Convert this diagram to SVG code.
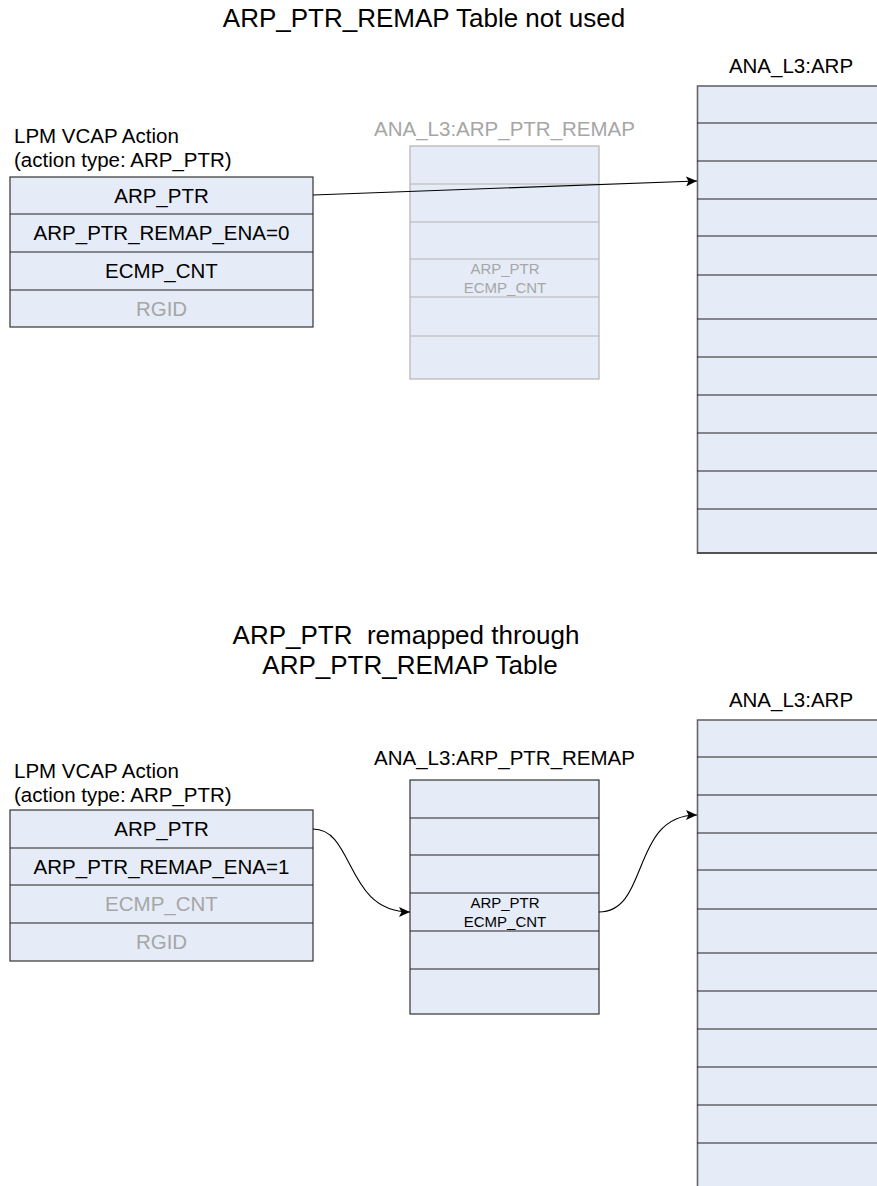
<svg xmlns="http://www.w3.org/2000/svg" width="877" height="1186" viewBox="0 0 877 1186">
<style>
text{font-family:"Liberation Sans",Arial,sans-serif;fill:#000}
.title{font-size:26px;text-anchor:middle}
.lbl{font-size:20.5px}
.cell{font-size:20.5px;text-anchor:middle}
.small{font-size:15px;text-anchor:middle}
.grey{fill:#a6a6a6}
.box{fill:#e5ecf7;stroke:#333;stroke-width:1.2}
.gbox{fill:#e5ecf7;stroke:#b4b4b4;stroke-width:1.2}
.sep{stroke:#222;stroke-width:1.2}
.gsep{stroke:#b4b4b4;stroke-width:1.2}
.arp{fill:#e5ecf7;stroke:#666;stroke-width:1.6}
.conn{fill:none;stroke:#000;stroke-width:1.1}
</style>
<defs>
<marker id="ah" markerUnits="userSpaceOnUse" markerWidth="12" markerHeight="10" refX="11" refY="5" orient="auto">
<path d="M0,0 L11,5 L0,10 L2.5,5 z" fill="#000"/>
</marker>
</defs>

<text class="title" x="424" y="27">ARP_PTR_REMAP Table not used</text>
<text class="title" x="406" y="644" style="white-space:pre" xml:space="preserve">ARP_PTR  remapped through</text>
<text class="title" x="410" y="674">ARP_PTR_REMAP Table</text>

<g id="lpm-top">
<text class="lbl" x="14" y="143">LPM VCAP Action</text>
<text class="lbl" x="14" y="167">(action type: ARP_PTR)</text>
<rect class="box" x="10" y="177" width="303" height="150"/>
<line class="sep" x1="10" y1="214" x2="313" y2="214"/>
<line class="sep" x1="10" y1="252" x2="313" y2="252"/>
<line class="sep" x1="10" y1="290" x2="313" y2="290"/>
<text class="cell" x="161.5" y="202.5">ARP_PTR</text>
<text class="cell" x="161.5" y="240">ARP_PTR_REMAP_ENA=0</text>
<text class="cell" x="161.5" y="278">ECMP_CNT</text>
<text class="cell grey" x="161.5" y="315.5">RGID</text>
</g>

<g id="remap-top">
<text class="lbl grey" x="504.5" y="136" text-anchor="middle">ANA_L3:ARP_PTR_REMAP</text>
<rect class="gbox" x="410" y="146" width="189" height="233"/>
<line class="gsep" x1="410" y1="184" x2="599" y2="184"/>
<line class="gsep" x1="410" y1="222" x2="599" y2="222"/>
<line class="gsep" x1="410" y1="259" x2="599" y2="259"/>
<line class="gsep" x1="410" y1="297" x2="599" y2="297"/>
<line class="gsep" x1="410" y1="336" x2="599" y2="336"/>
<text class="small grey" x="505" y="274">ARP_PTR</text>
<text class="small grey" x="505" y="292.5">ECMP_CNT</text>
</g>

<g id="arp-top">
<text class="lbl" x="791" y="73" text-anchor="middle">ANA_L3:ARP</text>
<rect class="arp" x="697.5" y="86" width="200" height="467"/>
<g class="sep">
<line x1="697" y1="123" x2="877" y2="123"/>
<line x1="697" y1="161" x2="877" y2="161"/>
<line x1="697" y1="199" x2="877" y2="199"/>
<line x1="697" y1="236" x2="877" y2="236"/>
<line x1="697" y1="275" x2="877" y2="275"/>
<line x1="697" y1="319" x2="877" y2="319"/>
<line x1="697" y1="357" x2="877" y2="357"/>
<line x1="697" y1="395" x2="877" y2="395"/>
<line x1="697" y1="433" x2="877" y2="433"/>
<line x1="697" y1="471" x2="877" y2="471"/>
<line x1="697" y1="509" x2="877" y2="509"/>
<line x1="697" y1="553" x2="877" y2="553"/>
</g>
</g>

<g id="lpm-bottom">
<text class="lbl" x="14" y="778">LPM VCAP Action</text>
<text class="lbl" x="14" y="802">(action type: ARP_PTR)</text>
<rect class="box" x="10" y="810" width="303" height="151"/>
<line class="sep" x1="10" y1="848" x2="313" y2="848"/>
<line class="sep" x1="10" y1="885" x2="313" y2="885"/>
<line class="sep" x1="10" y1="923" x2="313" y2="923"/>
<text class="cell" x="161.5" y="836">ARP_PTR</text>
<text class="cell" x="161.5" y="873.5">ARP_PTR_REMAP_ENA=1</text>
<text class="cell grey" x="161.5" y="911">ECMP_CNT</text>
<text class="cell grey" x="161.5" y="949">RGID</text>
</g>

<g id="remap-bottom">
<text class="lbl" x="504.5" y="765" text-anchor="middle">ANA_L3:ARP_PTR_REMAP</text>
<rect class="box" x="410" y="780" width="189" height="234"/>
<line class="sep" x1="410" y1="818" x2="599" y2="818"/>
<line class="sep" x1="410" y1="855" x2="599" y2="855"/>
<line class="sep" x1="410" y1="893" x2="599" y2="893"/>
<line class="sep" x1="410" y1="931" x2="599" y2="931"/>
<line class="sep" x1="410" y1="969" x2="599" y2="969"/>
<text class="small" x="505" y="908">ARP_PTR</text>
<text class="small" x="505" y="926.5">ECMP_CNT</text>
</g>

<g id="arp-bottom">
<text class="lbl" x="791" y="707" text-anchor="middle">ANA_L3:ARP</text>
<rect class="arp" x="697.5" y="720" width="200" height="480"/>
<g class="sep">
<line x1="697" y1="757" x2="877" y2="757"/>
<line x1="697" y1="795" x2="877" y2="795"/>
<line x1="697" y1="833" x2="877" y2="833"/>
<line x1="697" y1="870" x2="877" y2="870"/>
<line x1="697" y1="909" x2="877" y2="909"/>
<line x1="697" y1="953" x2="877" y2="953"/>
<line x1="697" y1="991" x2="877" y2="991"/>
<line x1="697" y1="1029" x2="877" y2="1029"/>
<line x1="697" y1="1067" x2="877" y2="1067"/>
<line x1="697" y1="1105" x2="877" y2="1105"/>
<line x1="697" y1="1143" x2="877" y2="1143"/>
</g>
</g>

<g id="connectors">
<line class="conn" x1="313" y1="195" x2="697" y2="181" marker-end="url(#ah)"/>
<path class="conn" d="M313,829 C355,829 345,912 410,912" marker-end="url(#ah)"/>
<path class="conn" d="M599,912 C650,912 630,815 697,815" marker-end="url(#ah)"/>
</g>
</svg>
